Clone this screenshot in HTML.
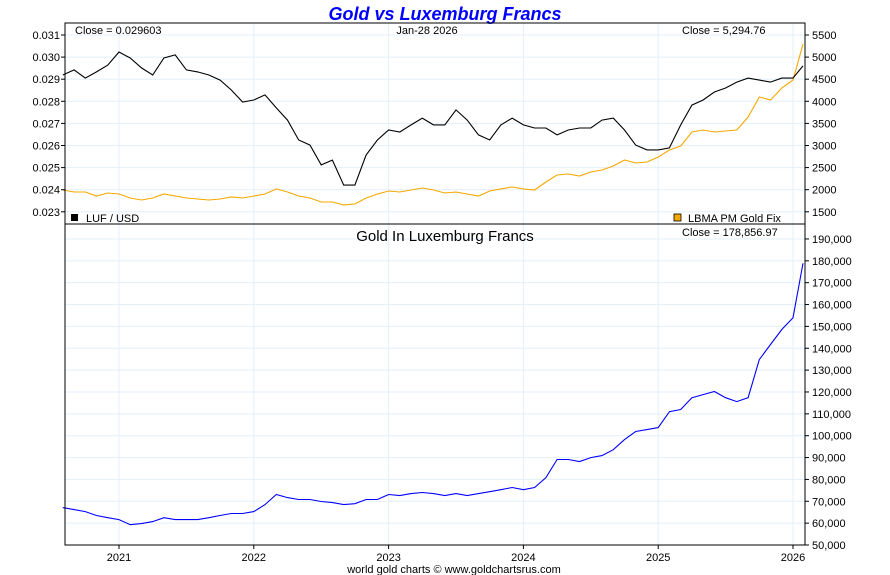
<!DOCTYPE html>
<html><head><meta charset="utf-8"><style>
body{margin:0;background:#fff;}
svg{display:block;font-family:"Liberation Sans",sans-serif;}
</style></head><body>
<svg id="chart" width="890" height="575" viewBox="0 0 890 575">
<text x="445" y="20" text-anchor="middle" font-size="18" font-weight="bold" font-style="italic" fill="#0000ff">Gold vs Luxemburg Francs</text>
<g id="grid"></g>
<g id="series"></g>
<g id="axes"></g>
</svg>
<script>
const dates = ["2020-08","2020-09","2020-10","2020-11","2020-12","2021-01","2021-02","2021-03","2021-04","2021-05","2021-06","2021-07","2021-08","2021-09","2021-10","2021-11","2021-12","2022-01","2022-02","2022-03","2022-04","2022-05","2022-06","2022-07","2022-08","2022-09","2022-10","2022-11","2022-12","2023-01","2023-02","2023-03","2023-04","2023-05","2023-06","2023-07","2023-08","2023-09","2023-10","2023-11","2023-12","2024-01","2024-02","2024-03","2024-04","2024-05","2024-06","2024-07","2024-08","2024-09","2024-10","2024-11","2024-12","2025-01","2025-02","2025-03","2025-04","2025-05","2025-06","2025-07","2025-08","2025-09","2025-10","2025-11","2025-12","2026-01","2026-01-28"];
const lufUsd = [0.02919,0.02942,0.02905,0.02933,0.02964,0.03023,0.02996,0.02951,0.02919,0.02996,0.03010,0.02942,0.02933,0.02919,0.02896,0.02851,0.02797,0.02806,0.02829,0.02770,0.02715,0.02625,0.02602,0.02512,0.02534,0.02421,0.02421,0.02557,0.02625,0.02670,0.02661,0.02693,0.02724,0.02693,0.02693,0.02761,0.02715,0.02648,0.02625,0.02693,0.02724,0.02693,0.02679,0.02679,0.02648,0.02670,0.02679,0.02679,0.02715,0.02724,0.02670,0.02602,0.02580,0.02580,0.02589,0.02693,0.02783,0.02806,0.02842,0.02860,0.02887,0.02905,0.02896,0.02887,0.02905,0.02905,0.02960];
const goldUsd = [1994,1948,1948,1858,1926,1903,1813,1768,1813,1903,1858,1813,1790,1768,1790,1836,1813,1858,1903,2017,1948,1858,1813,1722,1722,1655,1677,1813,1903,1971,1948,1994,2039,1994,1926,1948,1903,1858,1971,2017,2062,2017,1994,2175,2333,2356,2310,2401,2446,2537,2672,2605,2627,2740,2899,2989,3306,3351,3306,3328,3351,3645,4098,4030,4301,4482,5295];
const goldLuf = [67100,66200,65300,63500,62500,61600,59300,59800,60700,62500,61600,61600,61600,62500,63500,64400,64400,65300,68500,73100,71700,70800,70800,69900,69400,68500,68900,70800,70800,73100,72600,73500,74000,73500,72600,73500,72600,73500,74400,75300,76300,75300,76300,80800,89100,89100,88200,90000,90900,93600,98200,101900,102800,103700,111000,112000,117400,118800,120200,117400,115600,117400,134800,141700,148600,154000,178857];
const yearTicks = [2021,2022,2023,2024,2025,2026];
const lufTicks = [0.023,0.024,0.025,0.026,0.027,0.028,0.029,0.030,0.031];
const goldTicks = [1500,2000,2500,3000,3500,4000,4500,5000,5500];
const lufGoldTicks = [50000,60000,70000,80000,90000,100000,110000,120000,130000,140000,150000,160000,170000,180000,190000];

const NS="http://www.w3.org/2000/svg";
const L=65,R=805,T1=23,B1=224,B2=545;
function toYear(s){const p=s.split('-').map(Number);return p[0]+(p[1]-1)/12+((p[2]||1)-1)/365;}
const xS=t=>119+(t-2021)*134.8;
const yLuf=v=>35+(0.031-v)/0.001*22.1;
const yGold=v=>35+(5500-v)/500*22.1;
const yLG=v=>545-(v-50000)/10000*21.86;
function mk(tag,attrs,parent,txt){const e=document.createElementNS(NS,tag);for(const k in attrs)e.setAttribute(k,attrs[k]);if(txt!==undefined)e.textContent=txt;parent.appendChild(e);return e;}
const grid=document.getElementById('grid'),ser=document.getElementById('series'),ax=document.getElementById('axes');
const gc="#e3eff9";
yearTicks.forEach(y=>{const x=xS(y);
 let g=mk('line',{x1:x,x2:x,y1:T1,y2:B2,stroke:gc},grid);
 
 
 mk('line',{x1:x,x2:x,y1:B2,y2:B2+4,stroke:'#000'},ax);
 let t=mk('text',{x:x,y:561,'text-anchor':'middle','font-size':11},ax,String(y));
 
 
});
lufTicks.forEach(v=>{const y=yLuf(v);
 let g=mk('line',{x1:L,x2:R,y1:y,y2:y,stroke:gc},grid);
 
 
 mk('line',{x1:L-4,x2:L,y1:y,y2:y,stroke:'#000'},ax);
 let t=mk('text',{x:L-5,y:y+4,'text-anchor':'end','font-size':11},ax,v.toFixed(3));
 
 
});
goldTicks.forEach(v=>{const y=yGold(v);
 mk('line',{x1:R,x2:R+4,y1:y,y2:y,stroke:'#000'},ax);
 let t=mk('text',{x:R+7,y:y+4,'font-size':11},ax,String(v));
 
 
});
lufGoldTicks.forEach(v=>{const y=yLG(v);
 let g=mk('line',{x1:L,x2:R,y1:y,y2:y,stroke:gc},grid);
 
 
 mk('line',{x1:R,x2:R+4,y1:y,y2:y,stroke:'#000'},ax);
 let t=mk('text',{x:R+7,y:y+4,'font-size':11},ax,v.toLocaleString('en-US'));
 
 
});
function line(arr,yf,color,name){
 const d=arr.map((v,i)=>(i?'L':'M')+xS(toYear(dates[i])).toFixed(1)+','+yf(v).toFixed(1)).join('');
 const p=mk('path',{d:d,fill:'none',stroke:color,'stroke-width':1.1},ser);
 
 
}
line(goldUsd,yGold,'#f5a800','gold-usd-line');
line(lufUsd,yLuf,'#000','luf-usd-line');
line(goldLuf,yLG,'#0000ff','gold-luf-line');
let r1=mk('rect',{x:L,y:T1,width:R-L,height:B1-T1,fill:'none',stroke:'#000'},ax);


let r2=mk('rect',{x:L,y:B1,width:R-L,height:B2-B1,fill:'none',stroke:'#000'},ax);


function lab(x,y,txt,name,size,anchor){let t=mk('text',{x:x,y:y,'font-size':size||11,'text-anchor':anchor||'start'},ax,txt);
 
 }
lab(75,34,'Close = 0.029603','luf-close-label');
lab(427,34,'Jan-28  2026','date-label',11,'middle');
lab(682,34,'Close = 5,294.76','gold-close-label');
lab(445,241,'Gold In Luxemburg Francs','bottom-panel-title',15,'middle');
lab(682,236,'Close = 178,856.97','luf-gold-close-label');
let s1=mk('rect',{x:71,y:214,width:7,height:7,fill:'#000'},ax);


lab(86,222,'LUF / USD','legend-luf-usd');
let s2=mk('rect',{x:674,y:214,width:7,height:7,fill:'#f5a800',stroke:'#000','stroke-width':0.8},ax);


lab(688,222,'LBMA PM Gold Fix','legend-gold-fix');
lab(454,573,'world gold charts © www.goldchartsrus.com','footer-credit',11,'middle');
</script>
</body></html>
